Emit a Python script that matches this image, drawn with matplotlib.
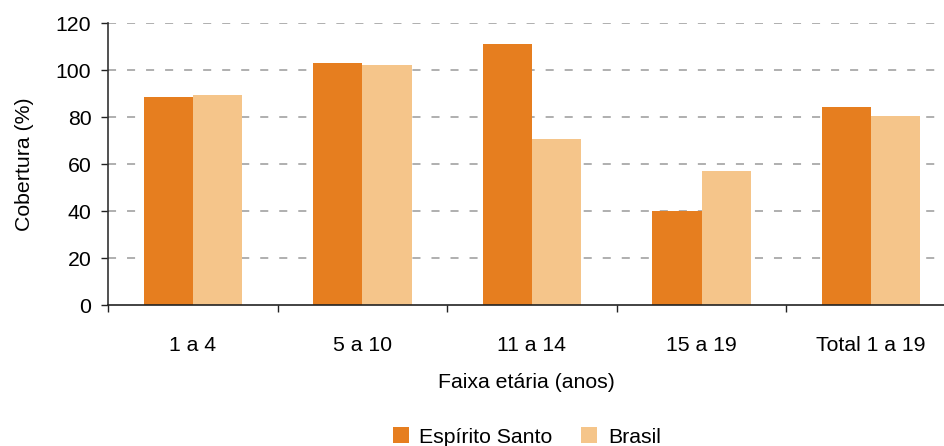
import numpy as np
import matplotlib.pyplot as plt

plt.rcParams['font.family'] = ['Liberation Sans', 'DejaVu Sans']
plt.rcParams['lines.scale_dashes'] = False

faixas = ["1 a 4", "5 a 10", "11 a 14", "15 a 19", "Total 1 a 19"]
espirito_santo = [88.5, 103.0, 111.1, 40.0, 84.3]
brasil = [89.4, 102.1, 70.6, 57.0, 80.4]

cor_es = '#e67e1f'
cor_br = '#f5c58a'
fs = 15.3

fig = plt.figure(figsize=(9.44, 4.46), dpi=100)
ax = fig.add_axes([0.1144, 0.316, 0.8856, 0.632])

x = np.arange(len(faixas))
w = 0.29
ax.bar(x - w / 2, espirito_santo, w, color=cor_es, label='Espírito Santo', zorder=2)
ax.bar(x + w / 2, brasil, w, color=cor_br, label='Brasil', zorder=2)

ax.set_ylim(0, 120)
ax.set_yticks(range(0, 121, 20))
ax.set_xlim(-0.5, 4.43)

# divisórias entre categorias e rótulos centralizados
ax.set_xticks(np.arange(-0.5, 4.5, 1.0))
ax.set_xticklabels([])
ax.set_xticks(x, minor=True)
ax.set_xticklabels(faixas, minor=True)
ax.tick_params(axis='x', which='major', direction='out', length=5, width=1, color='#222222')
ax.tick_params(axis='x', which='minor', length=0, pad=22, labelsize=fs)
ax.tick_params(axis='y', direction='out', length=5, width=1, color='#222222',
               labelsize=fs, pad=7)

for v in range(20, 121, 20):
    ax.axhline(v, color='#9a9a9a', lw=1.1, linestyle=(0, (5.8, 7.9)), zorder=1)

for s in ['top', 'right']:
    ax.spines[s].set_visible(False)
ax.spines['left'].set_color('#333333')
ax.spines['bottom'].set_color('#222222')
ax.spines['left'].set_linewidth(1.2)
ax.spines['bottom'].set_linewidth(1.2)

ax.set_ylabel('Cobertura (%)', fontsize=fs, labelpad=16)
ax.set_xlabel('Faixa etária (anos)', fontsize=fs, labelpad=13)

fig.legend(loc='center', bbox_to_anchor=(0.558, 0.02), ncol=2, frameon=False,
           fontsize=fs, handlelength=0.75, handleheight=0.75, columnspacing=1.35,
           handletextpad=0.5)

fig.savefig('out.png', dpi=100)
